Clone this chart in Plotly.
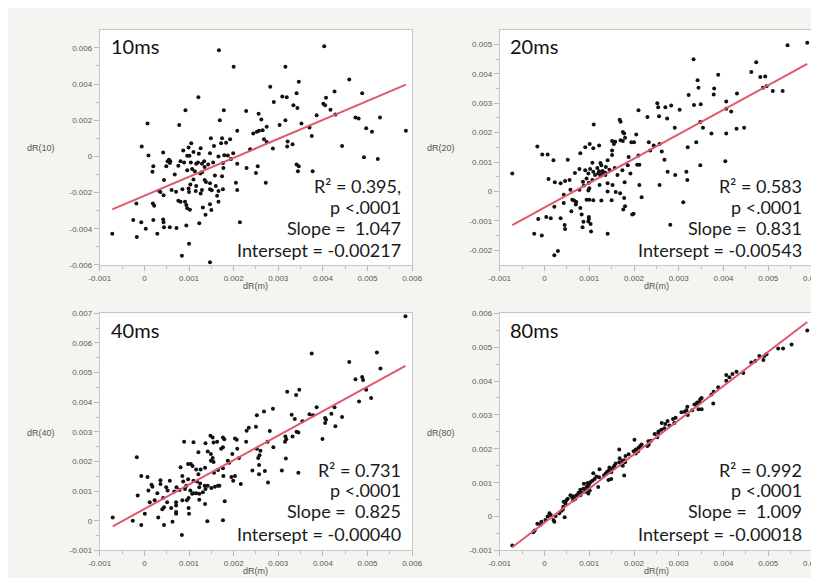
import plotly.graph_objects as go

W, H = 819, 578

# ---------------- data (values in units of 0.001) ----------------
pts_10ms = [
    (1.67,5.87),(4.03,6.09),(2.0,4.95),(3.16,4.95),(4.59,4.25),(3.46,4.13),(2.82,3.85),(1.21,3.27),(3.09,3.31),(3.19,3.27),
    (3.41,3.49),(4.26,3.58),(4.88,3.49),(4.07,3.24),(4.01,2.91),(4.05,2.82),(3.34,2.82),(3.43,2.67),(2.9,3.0),(4.17,2.58),
    (0.92,2.55),(1.78,2.55),(2.28,2.51),(2.56,2.36),(4.28,2.31),(3.86,2.27),(4.73,2.15),(4.8,2.09),(5.28,2.15),(1.69,2.0),
    (2.62,2.04),(3.16,2.0),(0.07,1.82),(0.78,1.73),(3.03,1.73),(3.52,1.82),(2.74,1.64),(3.7,1.6),(4.97,1.55),(5.1,1.36),
    (5.86,1.42),(2.08,1.42),(2.44,1.27),(2.52,1.36),(2.57,1.42),(2.65,1.45),(3.75,1.13),(1.49,1.0),(1.74,1.0),(1.92,0.95),
    (2.68,0.95),(2.74,0.8),(1.05,0.73),(1.56,0.58),(1.72,0.73),(1.83,0.76),(3.21,0.82),(3.32,0.67),(3.2,0.55),(4.43,0.58),
    (-0.06,0.55),(0.99,0.49),(1.26,0.45),(2.37,0.4),(2.88,0.44),(0.09,0.05),(0.42,0.22),(0.87,0.33),(1.1,0.24),(1.22,0.15),
    (1.47,0.18),(1.66,0.0),(1.79,0.07),(1.87,0.05),(1.99,0.18),(0.96,0.04),(1.01,0.04),(4.92,-0.05),(5.23,-0.15),(0.55,-0.18),
    (0.52,-0.27),(0.58,-0.27),(0.57,-0.36),(0.81,-0.27),(0.89,-0.33),(1.04,-0.33),(1.16,-0.4),(1.2,-0.33),(1.29,-0.4),(1.34,-0.27),
    (1.43,-0.45),(1.54,-0.33),(1.76,-0.36),(1.94,-0.15),(2.08,-0.4),(3.41,-0.45),(3.46,-0.55),(3.44,-0.82),(3.77,-0.82),(0.2,-0.55),
    (0.49,-0.55),(0.76,-0.51),(1.07,-0.69),(1.35,-0.58),(1.77,-0.64),(2.29,-0.64),(2.54,-0.55),(0.18,-0.85),(0.96,-0.76),(1.13,-0.82),
    (1.25,-0.95),(1.29,-0.87),(0.68,-1.0),(1.58,-1.05),(1.74,-1.09),(2.5,-0.91),(0.44,-1.31),(1.1,-1.27),(1.35,-1.31),(1.38,-1.42),
    (1.47,-1.49),(2.05,-1.45),(2.72,-1.45),(1.03,-1.55),(1.16,-1.64),(1.6,-1.64),(1.66,-1.91),(1.76,-1.82),(2.08,-1.85),(0.61,-1.85),
    (0.71,-1.95),(0.85,-1.82),(0.99,-1.78),(1.0,-1.96),(0.33,-1.91),(0.36,-1.96),(0.43,-2.15),(1.15,-1.91),(1.29,-1.85),(1.26,-2.05),
    (1.47,-1.82),(1.51,-1.87),(1.63,-2.18),(0.19,-2.6),(0.22,-2.73),(-0.18,-2.6),(0.76,-2.45),(0.81,-2.51),(0.91,-2.51),(0.94,-2.69),
    (0.96,-2.87),(1.02,-2.95),(1.31,-2.82),(1.47,-2.64),(1.5,-2.96),(1.66,-2.51),(1.37,-3.22),(1.23,-3.69),(2.14,-3.64),(-0.25,-3.51),
    (-0.07,-3.64),(0.2,-3.51),(0.42,-3.49),(0.43,-3.64),(0.57,-3.91),(0.72,-3.95),(0.44,-3.91),(0.03,-4.0),(0.29,-4.27),(-0.17,-4.45),
    (-0.72,-4.27),(0.94,-3.82),(1.0,-4.82),(0.84,-5.49),(1.47,-5.85),
]

pts_20ms = [
    (5.87,5.06),(5.43,4.97),(3.33,4.5),(4.73,4.39),(4.62,4.06),(3.88,3.97),(4.82,3.89),(4.93,3.91),(3.42,3.78),(3.44,3.53),
    (3.79,3.5),(4.96,3.58),(4.88,3.53),(5.1,3.42),(5.32,3.42),(4.3,3.33),(3.22,3.28),(3.78,3.3),(3.34,2.94),(3.49,2.97),
    (2.52,3.0),(2.54,2.86),(2.7,2.86),(2.83,2.92),(4.06,3.06),(3.02,2.78),(2.1,2.76),(2.3,2.53),(2.56,2.56),(2.74,2.48),
    (4.06,2.81),(4.17,2.72),(1.68,2.44),(1.7,2.37),(1.1,2.28),(3.48,2.36),(3.54,2.17),(2.91,2.17),(4.29,2.13),(4.46,2.17),
    (1.75,2.02),(1.78,1.97),(2.05,1.94),(3.73,1.97),(4.06,1.97),(1.8,1.83),(1.7,1.74),(1.75,1.72),(1.51,1.72),(1.58,1.69),
    (1.55,1.61),(1.94,1.67),(2.0,1.67),(2.33,1.67),(2.57,1.61),(3.39,1.67),(2.44,1.56),(1.01,1.61),(1.22,1.56),(0.91,1.5),
    (1.09,1.47),(-0.16,1.53),(3.2,1.5),(0.8,1.3),(1.51,1.24),(1.51,1.39),(2.1,1.22),(2.36,1.39),(2.62,1.36),(-0.05,1.26),
    (0.07,1.26),(1.88,1.17),(0.2,1.06),(0.52,1.08),(4.04,1.03),(2.68,1.08),(1.07,0.98),(1.25,0.97),(1.27,0.89),(1.41,1.06),
    (1.37,0.83),(1.86,0.89),(2.07,0.91),(2.12,0.91),(3.48,0.89),(0.78,0.76),(0.91,0.72),(1.02,0.76),(1.18,0.8),(1.22,0.69),
    (1.3,0.7),(1.45,0.74),(1.57,0.8),(1.74,0.72),(0.68,0.63),(0.98,0.61),(1.09,0.67),(1.2,0.61),(1.28,0.59),(1.36,0.64),
    (1.13,0.56),(1.25,0.53),(1.36,0.56),(1.63,0.56),(1.92,0.61),(2.75,0.67),(3.17,0.67),(2.92,0.56),(3.19,0.39),(-0.72,0.61),
    (0.09,0.42),(0.23,0.31),(0.36,0.28),(0.46,0.36),(0.56,0.39),(0.86,0.33),(0.94,0.44),(0.99,0.3),(1.07,0.39),(0.88,0.2),
    (1.0,0.11),(1.23,0.22),(1.41,0.28),(1.52,0.22),(1.79,0.31),(2.12,0.22),(2.57,0.22),(0.58,0.06),(0.78,0.06),(0.98,0.03),
    (1.41,0.0),(1.59,-0.02),(1.69,-0.06),(0.43,-0.11),(0.62,-0.28),(0.66,-0.31),(0.71,-0.36),(0.7,-0.44),(0.94,-0.28),(1.0,-0.28),
    (1.09,-0.3),(1.27,-0.31),(1.5,-0.3),(1.78,-0.22),(2.17,-0.2),(3.1,-0.37),(0.22,-0.52),(0.43,-0.39),(0.8,-0.56),(1.76,-0.61),
    (1.8,-0.5),(0.6,-0.67),(0.83,-0.78),(0.99,-0.87),(0.99,-0.94),(0.98,-1.02),(1.96,-0.78),(1.99,-0.76),(-0.14,-0.94),(0.04,-0.87),
    (0.14,-0.91),(0.36,-0.91),(0.87,-1.03),(0.85,-1.22),(1.03,-1.11),(1.04,-1.36),(0.45,-1.14),(0.46,-1.28),(2.81,-1.13),(-0.23,-1.44),
    (-0.06,-1.5),(1.41,-1.44),(0.3,-2.02),(0.22,-2.17),
]

pts_40ms = [
    (5.85,6.9),(3.75,5.64),(5.21,5.68),(4.59,5.36),(5.29,5.14),(4.73,4.77),(4.88,4.85),(4.9,4.75),(4.97,4.42),(5.08,4.14),
    (3.2,4.35),(3.47,4.42),(3.4,4.24),(4.81,4.02),(3.86,3.83),(4.26,3.83),(2.52,3.56),(2.68,3.69),(2.88,3.78),(3.3,3.58),
    (3.37,3.43),(3.7,3.59),(3.78,3.56),(4.19,3.61),(4.05,3.47),(4.07,3.41),(4.05,3.3),(4.28,3.19),(4.43,3.5),(3.54,3.36),
    (2.34,3.14),(2.29,3.04),(2.5,3.17),(2.81,3.03),(3.41,3.0),(3.45,2.98),(3.32,2.84),(3.16,2.84),(3.18,2.75),(3.15,2.67),
    (3.99,2.76),(2.76,2.67),(1.48,2.87),(1.53,2.81),(1.76,2.81),(1.79,2.75),(2.03,2.78),(2.07,2.73),(2.28,2.67),(0.89,2.67),
    (1.1,2.65),(1.37,2.62),(1.55,2.64),(1.63,2.67),(1.76,2.48),(1.72,2.43),(2.08,2.43),(2.89,2.48),(1.42,2.34),(1.21,2.31),
    (1.97,2.25),(2.52,2.43),(2.6,2.36),(2.55,2.12),(2.58,2.21),(3.17,2.1),(-0.17,2.14),(1.49,2.25),(1.49,2.03),(1.53,2.12),
    (1.55,1.98),(1.87,2.03),(1.9,1.96),(2.12,2.12),(2.42,1.7),(2.7,1.68),(2.57,1.88),(2.57,1.57),(2.77,1.29),(3.08,1.7),
    (3.45,1.62),(0.98,1.92),(1.04,1.92),(1.08,1.85),(0.81,1.81),(1.16,1.73),(1.26,1.73),(1.36,1.79),(1.21,1.57),(1.56,1.62),
    (1.65,1.71),(1.76,1.77),(1.77,1.51),(1.95,1.48),(2.03,1.51),(2.16,1.24),(1.99,1.35),(-0.07,1.51),(0.07,1.48),(0.36,1.37),
    (0.57,1.35),(0.85,1.51),(0.98,1.4),(0.87,1.33),(0.94,1.18),(0.91,1.07),(1.1,1.35),(1.18,1.33),(1.25,1.26),(1.23,1.13),
    (1.35,1.18),(1.37,1.07),(1.42,1.18),(1.5,1.11),(1.58,1.15),(1.65,1.18),(1.68,1.18),(0.16,1.22),(0.18,1.15),(0.36,1.24),
    (0.49,1.13),(0.52,1.02),(0.72,1.13),(0.67,0.99),(0.79,1.04),(1.03,1.02),(1.07,0.91),(1.1,0.93),(1.16,0.93),(1.23,0.91),
    (1.31,0.96),(0.09,1.02),(0.29,0.93),(0.12,0.63),(0.42,0.77),(0.51,0.63),(0.23,0.69),(-0.15,0.85),(0.99,0.77),(0.95,0.69),
    (0.85,0.69),(1.23,0.71),(1.36,0.57),(0.71,0.63),(0.71,0.52),(0.44,0.46),(0.4,0.39),(0.6,0.43),(0.99,0.43),(1.0,0.24),
    (1.8,0.66),(0.01,0.24),(0.31,0.11),(0.71,0.24),(0.71,0.3),(-0.71,0.11),(-0.26,0.0),(-0.07,-0.14),(0.44,-0.14),(0.63,-0.03),
    (1.41,-0.01),(1.76,0.02),(0.84,-0.48),
]

pts_80ms = [
    (5.87,5.49),(5.52,5.08),(5.33,4.96),(5.22,4.96),(4.96,4.79),(4.91,4.74),(4.89,4.62),(4.8,4.74),(4.71,4.59),(4.62,4.55),
    (4.44,4.24),(4.29,4.27),(4.2,4.21),(4.06,4.18),(4.06,4.01),(4.13,4.11),(3.88,3.82),(3.78,3.68),(3.77,3.34),(3.73,3.6),
    (3.51,3.5),(3.48,3.46),(3.46,3.38),(3.41,3.37),(3.39,3.31),(3.35,3.31),(3.51,3.17),(3.44,3.17),(3.3,3.14),(3.19,3.24),
    (3.17,3.14),(3.13,3.09),(3.06,3.08),(3.2,3.0),(2.93,2.92),(2.87,2.88),(2.9,2.76),(2.75,2.82),(2.79,2.69),(2.7,2.73),
    (2.62,2.76),(2.68,2.61),(2.61,2.56),(2.55,2.51),(2.54,2.47),(2.52,2.34),(2.46,2.44),(2.38,2.24),(2.32,2.22),(2.3,2.08),
    (2.33,2.13),(2.01,2.27),(2.14,2.08),(2.1,2.03),(2.09,1.93),(2.04,1.98),(2.04,1.86),(1.99,1.93),(1.88,1.84),(1.81,1.79),
    (1.67,1.98),(1.78,1.66),(1.8,1.6),(1.75,1.5),(1.74,1.64),(1.68,1.72),(1.67,1.6),(1.72,1.53),(1.78,1.21),(1.59,1.57),
    (1.56,1.5),(1.54,1.45),(1.51,1.4),(1.45,1.45),(1.49,1.31),(1.43,1.35),(1.39,1.31),(1.36,1.26),(1.43,1.08),(1.49,1.11),
    (1.23,1.4),(1.09,1.28),(1.33,1.21),(1.22,1.16),(1.16,1.18),(1.12,1.11),(1.2,0.87),(1.07,1.06),(1.03,1.02),(1.0,0.97),
    (0.98,0.92),(0.96,0.99),(0.94,0.87),(0.99,0.82),(1.01,0.77),(0.98,0.68),(0.94,0.77),(0.91,0.73),(0.87,0.82),(0.83,0.7),
    (0.8,0.63),(0.72,0.63),(0.76,0.7),(0.65,0.6),(0.62,0.56),(0.58,0.63),(0.52,0.53),(0.49,0.48),(0.47,0.39),(0.43,0.44),
    (0.42,0.29),(0.41,0.21),(0.38,0.17),(0.45,-0.02),(0.33,0.1),(0.25,0.02),(0.2,-0.1),(0.22,-0.15),(0.14,0.05),(0.11,0.1),
    (0.07,0.0),(0.02,-0.1),(-0.07,-0.15),(-0.09,-0.24),(-0.16,-0.21),(-0.22,-0.41),(-0.25,-0.46),(-0.72,-0.85),(0.64,0.48),(0.69,0.53),
    (0.8,0.79),(0.88,0.97),(2.17,2.13),
]

panel_points = [pts_10ms, pts_20ms, pts_40ms, pts_80ms]

panel_titles = ["10ms", "20ms", "40ms", "80ms"]
y_titles = ["dR(10)", "dR(20)", "dR(40)", "dR(80)"]
x_title = "dR(m)"
r2_values = ["0.395,", "0.583", "0.731", "0.992"]
p_label = "p <.0001"
slope_labels = ["1.047", "0.831", "0.825", "1.009"]
intercept_labels = ["-0.00217", "-0.00543", "-0.00040", "-0.00018"]

# fitted lines as drawn in the figure
fit_slope = [1.047, 0.831, 0.825, 1.009]
fit_intercept = [-0.00217, -0.000543, 0.0004, -0.00018]

x_range = [-0.001, 0.006]
x_ticks = [-0.001, 0, 0.001, 0.002, 0.003, 0.004, 0.005, 0.006]
x_tick_text = ["-0.001", "0", "0.001", "0.002", "0.003", "0.004", "0.005", "0.006"]
x_minor = [-0.0005, 0.0005, 0.0015, 0.0025, 0.0035, 0.0045, 0.0055]

y_ranges = [[-0.006, 0.007], [-0.0025, 0.0055], [-0.001, 0.007], [-0.001, 0.006]]
y_ticks = [
    [-0.006, -0.004, -0.002, 0, 0.002, 0.004, 0.006],
    [-0.002, -0.001, 0, 0.001, 0.002, 0.003, 0.004, 0.005],
    [-0.001, 0, 0.001, 0.002, 0.003, 0.004, 0.005, 0.006, 0.007],
    [-0.001, 0, 0.001, 0.002, 0.003, 0.004, 0.005, 0.006],
]
y_tick_text = [
    ["-0.006", "-0.004", "-0.002", "0", "0.002", "0.004", "0.006"],
    ["-0.002", "-0.001", "0", "0.001", "0.002", "0.003", "0.004", "0.005"],
    ["-0.001", "0", "0.001", "0.002", "0.003", "0.004", "0.005", "0.006", "0.007"],
    ["-0.001", "0", "0.001", "0.002", "0.003", "0.004", "0.005", "0.006"],
]
y_minor = [
    [-0.005, -0.003, -0.001, 0.001, 0.003, 0.005],
    [-0.0015, -0.0005, 0.0005, 0.0015, 0.0025, 0.0035, 0.0045],
    [-0.0005, 0.0005, 0.0015, 0.0025, 0.0035, 0.0045, 0.0055, 0.0065],
    [-0.0005, 0.0005, 0.0015, 0.0025, 0.0035, 0.0045, 0.0055],
]

# ---------------- layout geometry (pixels) ----------------
col_px = [(83, 404), (494, 816)]
row_px = [(18, 257), (306, 547)]


def px_x(v):
    return v / W


def px_y(v):
    return 1 - v / H


fig = go.Figure()
layout = dict(
    width=W, height=H,
    margin=dict(l=0, r=0, t=0, b=0),
    paper_bgcolor="#f4f4f1",
    plot_bgcolor="#ffffff",
    showlegend=False,
    font=dict(family="Liberation Sans, Arial, sans-serif", color="#555"),
)
annotations = []

text_font = dict(family="Lato, 'Open Sans', sans-serif", size=18, color="#1a1a1a")

for i in range(4):
    r, c = divmod(i, 2)
    xa = "x" if i == 0 else f"x{i+1}"
    ya = "y" if i == 0 else f"y{i+1}"
    xkey = "xaxis" if i == 0 else f"xaxis{i+1}"
    ykey = "yaxis" if i == 0 else f"yaxis{i+1}"

    xs = [p[0] / 1000 for p in panel_points[i]]
    ys = [p[1] / 1000 for p in panel_points[i]]

    fig.add_trace(go.Scatter(
        x=xs, y=ys, mode="markers", xaxis=xa, yaxis=ya,
        marker=dict(size=4, color="#111111"), hoverinfo="skip"))

    x0, x1 = min(xs), max(xs)
    fig.add_trace(go.Scatter(
        x=[x0, x1],
        y=[fit_intercept[i] + fit_slope[i] * x0, fit_intercept[i] + fit_slope[i] * x1],
        mode="lines", xaxis=xa, yaxis=ya,
        line=dict(color="#e0586b", width=2), hoverinfo="skip"))

    cl, cr = col_px[c]
    rt, rb = row_px[r]
    axis_common = dict(
        showgrid=False, zeroline=False,
        showline=True, mirror=True, linecolor="#c6c6c6", linewidth=1,
        ticks="outside", ticklen=5, tickcolor="#b8b8b8",
        tickfont=dict(size=8, color="#5a5a5a", family="Liberation Sans, Arial, sans-serif"),
        tickmode="array", fixedrange=True,
    )
    layout[xkey] = dict(
        axis_common,
        domain=[px_x(cl), px_x(cr)], anchor=ya, range=x_range,
        tickvals=x_ticks, ticktext=x_tick_text,
        minor=dict(tickmode="array", tickvals=x_minor, ticks="outside", ticklen=3, tickcolor="#c0c0c0"),
    )
    layout[ykey] = dict(
        axis_common,
        domain=[px_y(rb), px_y(rt)], anchor=xa, range=y_ranges[i],
        tickvals=y_ticks[i], ticktext=y_tick_text[i],
        minor=dict(tickmode="array", tickvals=y_minor[i], ticks="outside", ticklen=3, tickcolor="#c0c0c0"),
    )

    # panel title
    annotations.append(dict(
        text=panel_titles[i], x=px_x(cl + 9), y=px_y(rt + 17),
        xref="paper", yref="paper", xanchor="left", yanchor="middle",
        showarrow=False, font=dict(family="Lato, 'Open Sans', sans-serif", size=20, color="#111")))

    # y-axis title (horizontal)
    annotations.append(dict(
        text=y_titles[i], x=px_x(cl - 60), y=px_y((rt + rb) / 2 + 1),
        xref="paper", yref="paper", xanchor="center", yanchor="middle",
        showarrow=False, font=dict(size=9, color="#555")))

    # x-axis title
    annotations.append(dict(
        text=x_title, x=px_x((cl + cr) / 2), y=px_y(rb + 21),
        xref="paper", yref="paper", xanchor="center", yanchor="middle",
        showarrow=False, font=dict(size=9, color="#555")))

    # statistics block
    stat_lines = [
        f"R\u00b2 = {r2_values[i]}",
        p_label,
        f"Slope =\u00a0\u00a0{slope_labels[i]}",
        f"Intersept = {intercept_labels[i]}",
    ]
    offsets = [158, 179, 200, 223]
    for line_txt, off in zip(stat_lines, offsets):
        annotations.append(dict(
            text=line_txt, x=px_x(cr - 9), y=px_y(rt + off + 1),
            xref="paper", yref="paper", xanchor="right", yanchor="middle",
            showarrow=False, font=text_font))

layout["annotations"] = annotations
fig.update_layout(**layout)
fig.write_html("out.html")
